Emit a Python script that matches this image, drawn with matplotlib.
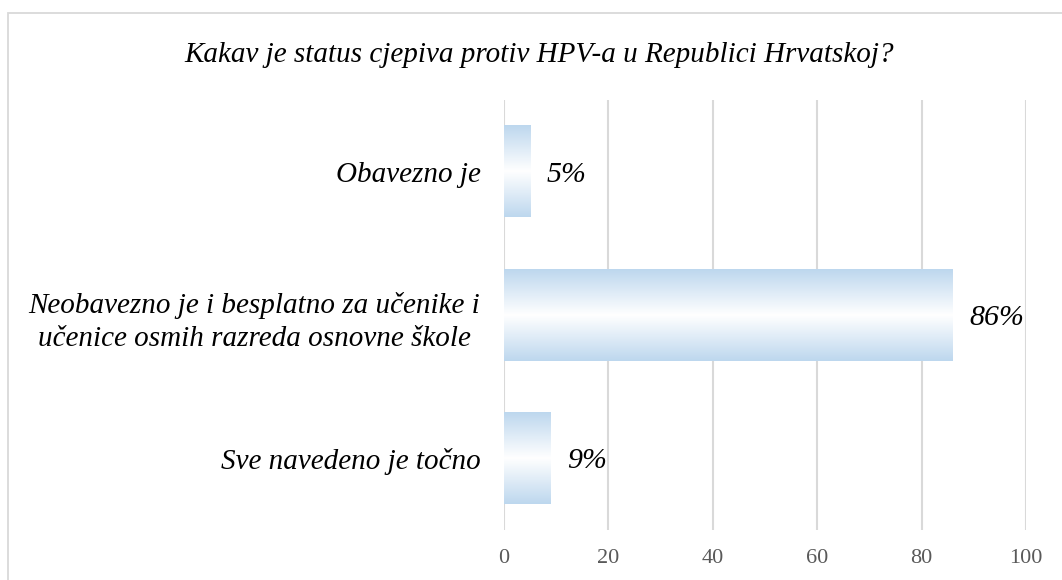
import numpy as np
import matplotlib.pyplot as plt
from matplotlib.patches import Rectangle
from matplotlib.colors import LinearSegmentedColormap

# data
categories = ['Obavezno je',
              'Neobavezno je i besplatno za učenike i\nučenice osmih razreda osnovne škole',
              'Sve navedeno je točno']
values = [5, 86, 9]
value_labels = ['5%', '86%', '9%']
xticks = [0, 20, 40, 60, 80, 100]
title = 'Kakav je status cjepiva protiv HPV-a u Republici Hrvatskoj?'

serif = ['Liberation Serif', 'DejaVu Serif']

fig = plt.figure(figsize=(10.62, 5.8), dpi=100)
ax = fig.add_axes([504 / 1062, 1 - 530 / 580, 522 / 1062, 430 / 580])

# outer chart border
fig.patches.append(Rectangle((7.5 / 1062, -0.2), 1.2, 1.2 - 12.5 / 580,
                             transform=fig.transFigure, fill=False,
                             edgecolor='#D9D9D9', linewidth=1.3))

y = np.arange(len(categories))
bars = ax.barh(y, values, height=0.635, color='none', edgecolor='none', zorder=2)

# vertical gradient: light blue at top and bottom, white in the middle
cmap = LinearSegmentedColormap.from_list('grad', ['#BDD7EE', '#FFFFFF', '#BDD7EE'])
grad = np.linspace(0, 1, 256).reshape(-1, 1)
for b in bars:
    x0, y0, w, h = b.get_x(), b.get_y(), b.get_width(), b.get_height()
    ax.imshow(grad, cmap=cmap, aspect='auto', extent=(x0, x0 + w, y0 + h, y0),
              interpolation='bicubic', zorder=2)

for yi, v, lab in zip(y, values, value_labels):
    ax.text(v + 3.1, yi + 0.02, lab, va='center', ha='left', fontsize=21.5,
            fontstyle='italic', family=serif, color='black')

ax.set_xlim(0, 100)
ax.set_ylim(len(categories) - 0.5, -0.5)
ax.set_xticks(xticks)
ax.set_yticks(y)
ax.set_yticklabels(categories, fontsize=21, fontstyle='italic', family=serif,
                   multialignment='center', linespacing=1.35)
for t in ax.get_xticklabels():
    t.set_family(serif)
    t.set_fontsize(16)
    t.set_color('#595959')
ax.tick_params(axis='x', length=0, pad=13.5)
ax.tick_params(axis='y', length=0, pad=17)
ax.grid(axis='x', color='#D9D9D9', linewidth=1.5, zorder=0)
ax.set_axisbelow(True)
for s in ax.spines.values():
    s.set_visible(False)

fig.text(539 / 1062, 1 - 55 / 580, title, ha='center', va='center', fontsize=21,
         fontstyle='italic', family=serif, color='black')

fig.savefig('out.png', dpi=100)
